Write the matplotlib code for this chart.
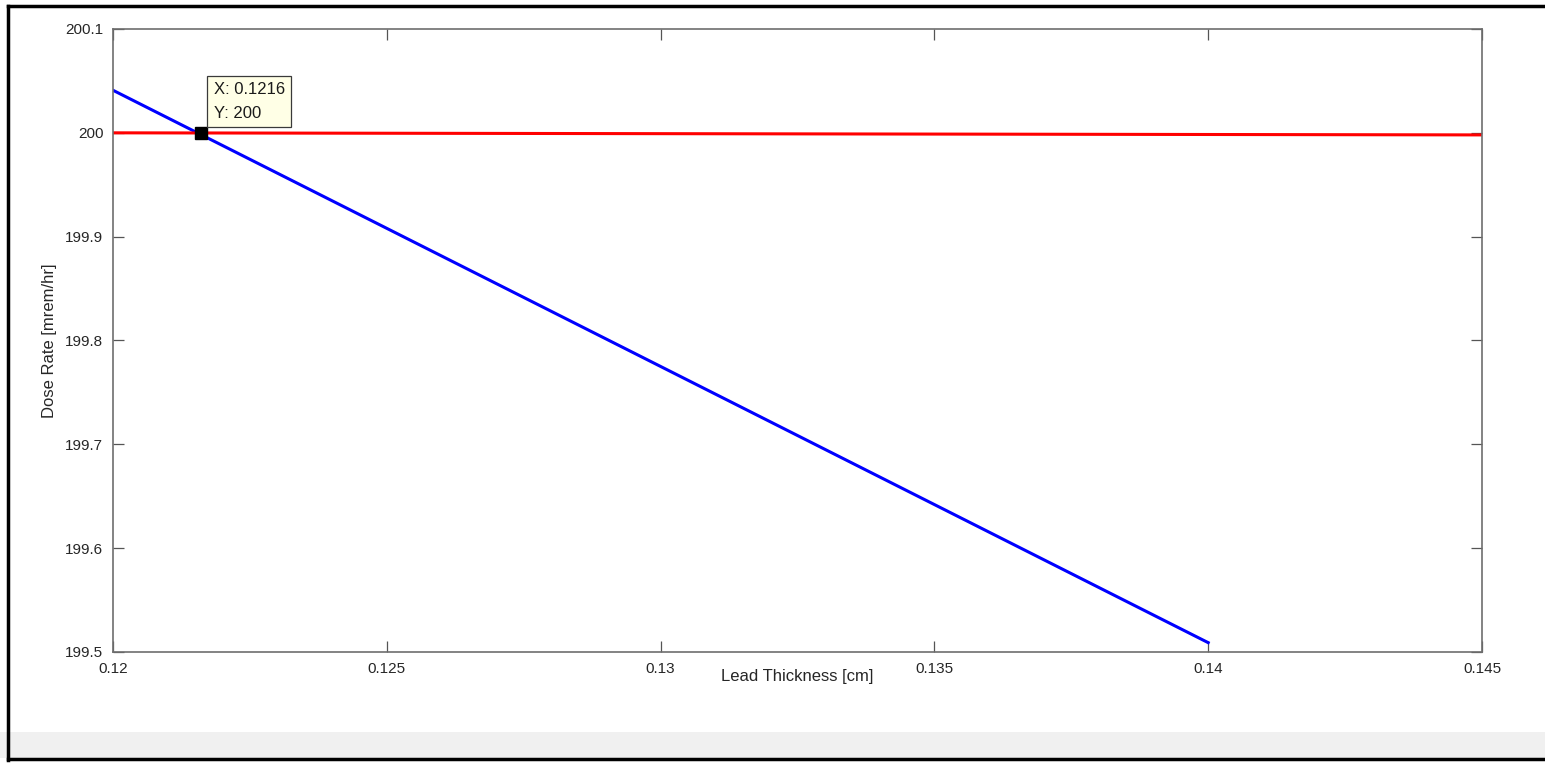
import numpy as np
import matplotlib as mpl
import matplotlib.pyplot as plt
from matplotlib.patches import Rectangle

mpl.rcParams['font.family'] = 'Liberation Sans'
mpl.rcParams['font.size'] = 11

# values
thickness_blue = [0.12, 0.125, 0.13, 0.135, 0.14]
dose_blue = [200.041, 199.908, 199.775, 199.642, 199.509]
thickness_red = [0.12, 0.145]
dose_red = [200.0, 199.998]
tip_x = 0.1216
tip_y = 200

xticks = [0.12, 0.125, 0.13, 0.135, 0.14, 0.145]
xticklabels = ['0.12', '0.125', '0.13', '0.135', '0.14', '0.145']
yticks = [199.5, 199.6, 199.7, 199.8, 199.9, 200, 200.1]
yticklabels = ['199.5', '199.6', '199.7', '199.8', '199.9', '200', '200.1']

W, H = 1545, 764
fig = plt.figure(figsize=(W/100, H/100), dpi=100)

# window frame and grey strip at the bottom
fig.patches.append(Rectangle((0, 6/H), 1, 26/H, transform=fig.transFigure,
                             facecolor='#f0f0f0', edgecolor='none', zorder=0))
fig.add_artist(plt.Line2D([8/W, 8/W], [4/H, 1 - 6/H], transform=fig.transFigure, color='black', lw=2.5))
fig.add_artist(plt.Line2D([8/W, 1], [1 - 6/H, 1 - 6/H], transform=fig.transFigure, color='black', lw=2.5))
fig.add_artist(plt.Line2D([8/W, 1], [5/H, 5/H], transform=fig.transFigure, color='black', lw=2.5))

ax = fig.add_axes([113/W, 112/H, 1369/W, 623/H])
ax.plot(thickness_blue, dose_blue, color='#0000ff', lw=2.2)
ax.plot(thickness_red, dose_red, color='#ff0000', lw=2.2)
ax.plot([tip_x], [tip_y], 's', color='black', ms=8)

ax.annotate('X: %.4f\nY: %g' % (tip_x, tip_y), xy=(tip_x, tip_y),
            xytext=(13, 12), textcoords='offset pixels', ha='left', va='bottom',
            fontsize=12, color='#1a1a1a', linespacing=1.7,
            bbox=dict(boxstyle='square,pad=0.4', facecolor='#ffffe6', edgecolor='#3a3a3a', lw=0.9))

ax.set_xlim(0.12, 0.145)
ax.set_ylim(199.5, 200.1)
ax.set_xticks(xticks)
ax.set_xticklabels(xticklabels)
ax.set_yticks(yticks)
ax.set_yticklabels(yticklabels)
ax.tick_params(direction='in', length=8, width=0.9, color='#555555', labelcolor='#262626',
               top=True, right=True, labelsize=11, pad=7)
for s in ax.spines.values():
    s.set_color('#6e6e6e')
    s.set_linewidth(1.2)

ax.set_xlabel('Lead Thickness [cm]', fontsize=12, color='#262626', labelpad=-5)
ax.set_ylabel('Dose Rate [mrem/hr]', fontsize=12, color='#262626', labelpad=6)

fig.savefig('out.png', dpi=100)
